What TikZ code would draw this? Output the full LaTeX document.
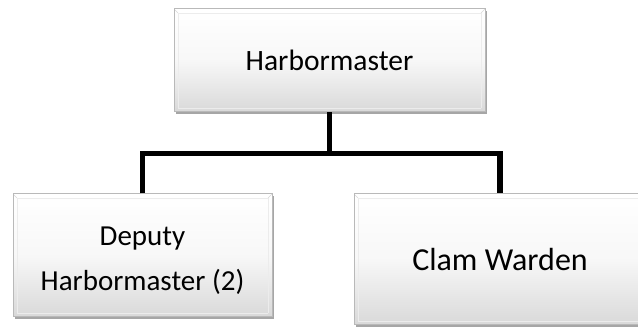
\documentclass[tikz,border=0pt]{standalone}
\usepackage{fontspec}
\setmainfont{Carlito}
\usetikzlibrary{shadows}
\begin{document}
\begin{tikzpicture}[x=1pt,y=-1pt,
  orgbox/.style={rectangle, inner sep=0pt, align=center,
    draw=gray!55, line width=1pt,
    top color=white, bottom color=gray!30, middle color=gray!6,
    drop shadow={shadow xshift=1.5pt, shadow yshift=-2.5pt, opacity=0.35, fill=black},
    path picture={
      \draw[white!85!gray, line width=0.8pt]
        ([xshift=4pt,yshift=-4pt]path picture bounding box.north west) rectangle
        ([xshift=-4pt,yshift=4pt]path picture bounding box.south east);
      \draw[gray!30, line width=0.6pt]
        (path picture bounding box.north west) -- ([xshift=4pt,yshift=-4pt]path picture bounding box.north west)
        (path picture bounding box.north east) -- ([xshift=-4pt,yshift=-4pt]path picture bounding box.north east)
        (path picture bounding box.south west) -- ([xshift=4pt,yshift=4pt]path picture bounding box.south west)
        (path picture bounding box.south east) -- ([xshift=-4pt,yshift=4pt]path picture bounding box.south east);
    }},
  link/.style={line width=5.5pt, line join=miter, draw=black}
]
\useasboundingbox (0,0) rectangle (638,328);

\node[orgbox, minimum width=311pt, minimum height=103pt,
      font=\fontsize{29.5}{35}\selectfont] (hm) at (329.5,60.5) {Harbormaster};
\node[orgbox, minimum width=259pt, minimum height=123pt] (dep) at (142.5,255.5) {};
\node[align=center, inner sep=0pt, font=\fontsize{29}{45}\selectfont]
      (deptext) at ([yshift=-5pt]dep.center) {Deputy\\Harbormaster (2)};
\node[orgbox, minimum width=292pt, minimum height=131pt,
      font=\fontsize{32}{38}\selectfont] (cw) at (500,259.5) {Clam Warden};

\coordinate (j) at (329.5,153.5);
\draw[link] (hm.south) -- (j);
\draw[link] (dep.north) |- (j) -| (cw.north);
\end{tikzpicture}
\end{document}
